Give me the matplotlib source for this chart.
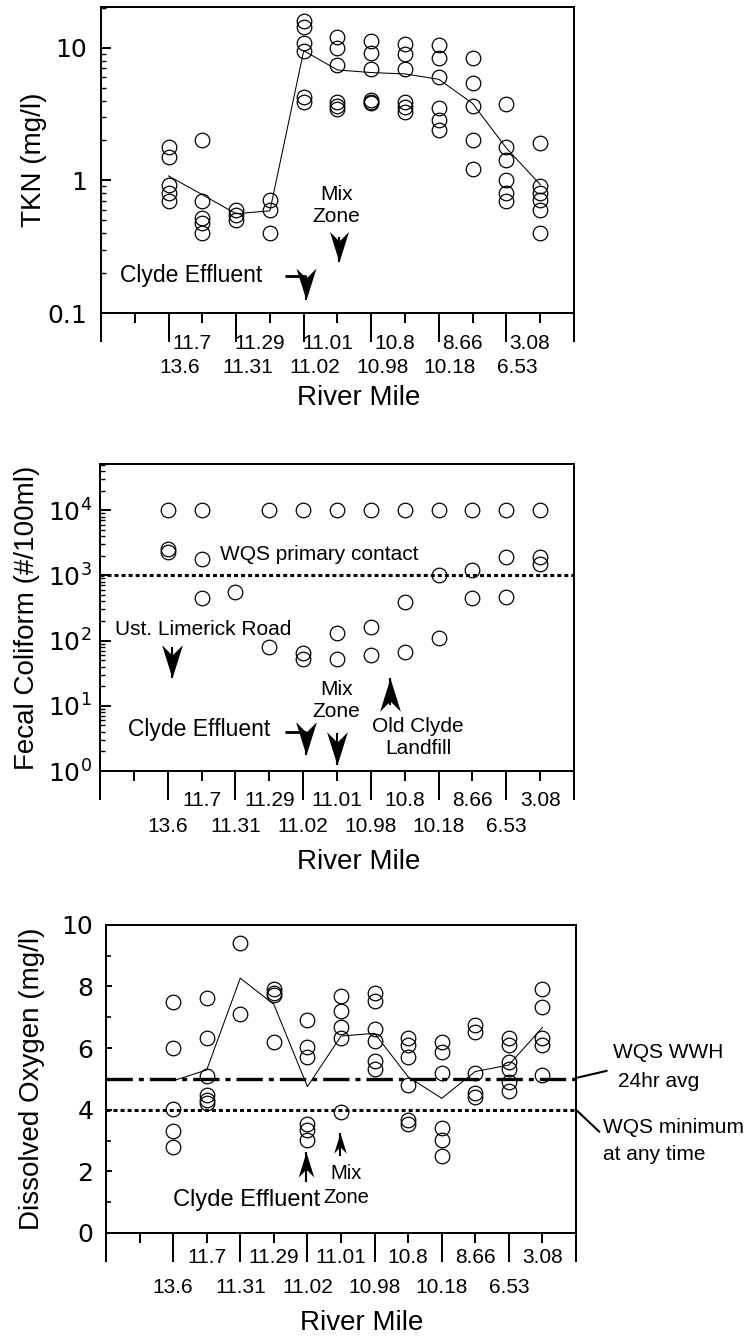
import numpy as np
import matplotlib.pyplot as plt
from matplotlib import ticker
from matplotlib.path import Path

plt.rcParams['font.family'] = ['Liberation Sans', 'DejaVu Sans']
plt.rcParams['mathtext.fontset'] = 'custom'
plt.rcParams['mathtext.rm'] = 'DejaVu Sans'
plt.rcParams['mathtext.it'] = 'DejaVu Sans:italic'
plt.rcParams['mathtext.bf'] = 'DejaVu Sans:bold'

# ---- data ----
# sampling stations sit on slots 2..13 of a 0..14 axis
station_slot = np.arange(2, 14)
upper_miles = ['11.7', '11.29', '11.01', '10.8', '8.66', '3.08']      # odd slots
lower_miles = ['13.6', '11.31', '11.02', '10.98', '10.18', '6.53']    # even slots

tkn_obs = [
    [1.80, 1.51, 0.92, 0.80, 0.70],
    [2.01, 0.70, 0.52, 0.48, 0.40],
    [0.60, 0.55, 0.50],
    [0.71, 0.60, 0.40],
    [15.8, 14.3, 10.9, 9.5, 4.28, 3.92],
    [12.1, 10.0, 7.42, 3.92, 3.65, 3.45],
    [11.3, 9.1, 6.9, 4.05, 3.92, 3.80],
    [10.6, 9.0, 6.9, 3.90, 3.60, 3.26],
    [10.5, 8.3, 6.06, 3.49, 2.85, 2.40],
    [8.3, 5.46, 3.64, 2.0, 1.21],
    [3.75, 1.80, 1.42, 1.00, 0.81, 0.70],
    [1.92, 0.906, 0.80, 0.71, 0.60, 0.40],
]
tkn_avg = [1.08, 0.78, 0.56, 0.59, 9.5, 6.8, 6.5, 6.35, 5.78, 3.8, 1.75, 0.93]

fc_obs = [
    [1e4, 2500, 2300],
    [1e4, 1790, 446],
    [565],
    [1e4, 81],
    [1e4, 64, 52],
    [1e4, 133, 52],
    [1e4, 160, 60],
    [1e4, 387, 66],
    [1e4, 1000, 109],
    [1e4, 1213, 446],
    [1e4, 1945, 473],
    [1e4, 1945, 1500],
]
fc_standard = 1000

do_obs = [
    [7.49, 6.01, 4.01, 3.32, 2.80],
    [7.62, 6.32, 5.10, 4.47, 4.33, 4.23],
    [9.40, 7.10],
    [7.92, 7.80, 7.72, 6.21],
    [6.91, 6.02, 5.72, 3.55, 3.34, 3.01],
    [7.69, 7.20, 6.70, 6.34, 3.91],
    [7.80, 7.54, 6.62, 6.23, 5.58, 5.31],
    [6.32, 6.10, 5.72, 4.80, 3.66, 3.53],
    [6.21, 5.88, 5.18, 3.39, 3.01, 2.50],
    [6.75, 6.53, 5.20, 4.53, 4.42],
    [6.32, 6.10, 5.56, 5.31, 4.91, 4.60],
    [7.91, 7.32, 6.32, 6.10, 5.12],
]
do_avg = [4.94, 5.29, 8.27, 7.42, 4.75, 6.39, 6.48, 5.07, 4.37, 5.24, 5.45, 6.67]
do_wwh = 5.0
do_min = 4.0

SPINE_W = 1.44
TXT = 15
BIG = 16.5
LAB = 20

# barbed arrowheads, tip at the origin
HEAD_UP = Path([(0, 0), (0.5, -1.6), (0, -1.1), (-0.5, -1.6), (0, 0)],
               [Path.MOVETO, Path.LINETO, Path.LINETO, Path.LINETO, Path.CLOSEPOLY])
HEAD_DOWN = Path([(0, 0), (0.5, 1.6), (0, 1.1), (-0.5, 1.6), (0, 0)],
                 [Path.MOVETO, Path.LINETO, Path.LINETO, Path.LINETO, Path.CLOSEPOLY])


def scatter_columns(ax, obs):
    xs = np.concatenate([[s] * len(v) for s, v in zip(station_slot, obs)])
    ys = np.concatenate(obs)
    ax.plot(xs, ys, 'o', ms=10.5, mfc='none', mec='black', mew=0.9, zorder=4)


def frame(ax, up_off, up_y, lo_off, lo_y, rm_y, ylab, ylab_x):
    ax.set_xlim(0, 14)
    for s in ax.spines.values():
        s.set_linewidth(SPINE_W)
    ax.set_xticks(np.arange(0, 15, 2))
    ax.set_xticks(np.arange(1, 14, 2), minor=True)
    ax.tick_params(axis='x', which='major', direction='out', length=20.9,
                   width=SPINE_W, labelbottom=False, top=False)
    ax.tick_params(axis='x', which='minor', direction='out', length=7.2,
                   width=SPINE_W, top=False)
    ax.tick_params(axis='y', labelfontfamily='DejaVu Sans')
    trans = ax.get_xaxis_transform()
    for s, lab in zip(station_slot[1::2], upper_miles):
        ax.text(s + up_off, up_y, lab, transform=trans, ha='center', va='center', fontsize=TXT)
    for s, lab in zip(station_slot[0::2], lower_miles):
        ax.text(s + lo_off, lo_y, lab, transform=trans, ha='center', va='center', fontsize=TXT)
    ax.text(0.545, rm_y, 'River Mile', transform=ax.transAxes, ha='center', va='center',
            fontsize=LAB)
    ax.text(ylab_x, 0.5, ylab, transform=ax.transAxes, rotation=90, ha='center',
            va='center', fontsize=LAB)


def arrow(ax, tail, tip, size=48):
    ax.plot([tail[0], tip[0]], [tail[1], tip[1]], color='black', lw=1.5,
            solid_capstyle='butt', zorder=5)
    head = HEAD_UP if tip[1] > tail[1] else HEAD_DOWN
    ax.plot([tip[0]], [tip[1]], marker=head, ms=size, color='black', mew=0,
            linestyle='none', zorder=5)


fig = plt.figure(figsize=(7.48, 13.4), dpi=100)

# ---------------- TKN ----------------
ax1 = fig.add_axes([0.1350, 0.7664, 0.6324, 0.2284])
ax1.set_yscale('log')
ax1.set_ylim(0.1, 20.3)
ax1.plot(station_slot, tkn_avg, color='black', lw=0.75, zorder=3)
scatter_columns(ax1, tkn_obs)
ax1.yaxis.set_major_locator(ticker.FixedLocator([0.1, 1, 10]))
ax1.yaxis.set_major_formatter(ticker.FuncFormatter(lambda v, p: f'{v:g}'))
ax1.yaxis.set_minor_locator(ticker.LogLocator(base=10, subs=np.arange(2, 10)))
ax1.yaxis.set_minor_formatter(ticker.NullFormatter())
ax1.tick_params(axis='y', which='major', direction='in', length=7, width=SPINE_W,
                labelsize=18, pad=10, right=False)
ax1.tick_params(axis='y', which='minor', direction='in', length=3.6, width=1.0, right=False)
frame(ax1, -0.3, -0.101, 0.33, -0.1775, -0.278, 'TKN (mg/l)', -0.1416)
ax1.text(6.97, 0.642, 'Mix\nZone', ha='center', va='center', fontsize=TXT, linespacing=1.2)
arrow(ax1, (7.03, 0.375), (7.03, 0.243), size=44)
ax1.text(0.57, 0.193, 'Clyde Effluent', ha='left', va='center', fontsize=BIG)
ax1.plot([5.44, 6.07], [0.19, 0.19], color='black', lw=2.0, solid_capstyle='butt')
arrow(ax1, (6.07, 0.19), (6.07, 0.125), size=46)

# ---------------- Fecal coliform ----------------
ax2 = fig.add_axes([0.1337, 0.4246, 0.6337, 0.2291])
ax2.set_yscale('log')
ax2.set_ylim(1, 5.1e4)
ax2.axhline(fc_standard, color='black', lw=2.2, linestyle=(0, (1.3, 1.0)), zorder=2)
scatter_columns(ax2, fc_obs)
ax2.yaxis.set_major_locator(ticker.FixedLocator([1, 10, 100, 1000, 10000]))
ax2.yaxis.set_major_formatter(ticker.LogFormatterSciNotation())
ax2.yaxis.set_minor_locator(ticker.LogLocator(base=10, subs=np.arange(2, 10)))
ax2.yaxis.set_minor_formatter(ticker.NullFormatter())
ax2.tick_params(axis='y', which='major', direction='in', length=7.7, width=SPINE_W,
                labelsize=18, pad=6, right=False)
ax2.tick_params(axis='y', which='minor', direction='in', length=3.6, width=1.0, right=False)
frame(ax2, 0.0, -0.0945, 0.0, -0.182, -0.296, 'Fecal Coliform (#/100ml)', -0.155)
ax2.text(3.54, 2065, 'WQS primary contact', ha='left', va='center', fontsize=TXT)
ax2.text(0.43, 146, 'Ust. Limerick Road', ha='left', va='center', fontsize=TXT)
arrow(ax2, (2.13, 81), (2.13, 26.4))
ax2.text(6.99, 11.9, 'Mix\nZone', ha='center', va='center', fontsize=TXT, linespacing=1.2)
arrow(ax2, (6.99, 3.8), (6.99, 1.24))
ax2.text(0.83, 4.26, 'Clyde Effluent', ha='left', va='center', fontsize=BIG)
ax2.plot([5.46, 6.09], [4.0, 4.0], color='black', lw=2.0, solid_capstyle='butt')
arrow(ax2, (6.09, 4.0), (6.09, 1.76))
ax2.text(9.4, 3.27, 'Old Clyde\nLandfill', ha='center', va='center', fontsize=TXT,
         linespacing=1.2)
arrow(ax2, (8.57, 10.3), (8.57, 26.4))

# ---------------- Dissolved oxygen ----------------
ax3 = fig.add_axes([0.1417, 0.0799, 0.6283, 0.2299])
ax3.set_ylim(0, 10)
ax3.axhline(do_wwh, color='black', lw=2.4, linestyle=(0, (7.9, 1.8, 1.5, 1.8)), zorder=2)
ax3.axhline(do_min, color='black', lw=2.2, linestyle=(0, (1.3, 1.0)), zorder=2)
ax3.plot(station_slot, do_avg, color='black', lw=0.75, zorder=3)
scatter_columns(ax3, do_obs)
ax3.set_yticks(np.arange(0, 11, 2))
ax3.set_yticks(np.arange(1, 10, 2), minor=True)
ax3.tick_params(axis='y', which='major', direction='in', length=4.5, width=SPINE_W,
                labelsize=18, pad=9, right=False)
ax3.tick_params(axis='y', which='minor', direction='in', length=3.5, width=1.2, right=False)
frame(ax3, 0.0, -0.081, 0.0, -0.1756, -0.292, 'Dissolved Oxygen (mg/l)', -0.157)
ax3.text(2.0, 1.08, 'Clyde Effluent', ha='left', va='center', fontsize=17)
ax3.text(7.15, 1.54, 'Mix\nZone', ha='center', va='center', fontsize=14.5, linespacing=1.3)
arrow(ax3, (5.97, 1.66), (5.97, 2.63), size=36)
arrow(ax3, (6.98, 2.5), (6.98, 3.23), size=29)
ax3.plot([14.0, 14.91], [5.03, 5.26], color='black', lw=1.5, clip_on=False)
ax3.plot([14.0, 14.69], [4.0, 3.29], color='black', lw=1.5, clip_on=False)
ax3.text(15.09, 5.85, 'WQS WWH', ha='left', va='center', fontsize=TXT)
ax3.text(15.25, 4.92, '24hr avg', ha='left', va='center', fontsize=TXT)
ax3.text(14.81, 3.41, 'WQS minimum', ha='left', va='center', fontsize=TXT)
ax3.text(14.81, 2.53, 'at any time', ha='left', va='center', fontsize=TXT)

fig.savefig('out.png', dpi=100)
